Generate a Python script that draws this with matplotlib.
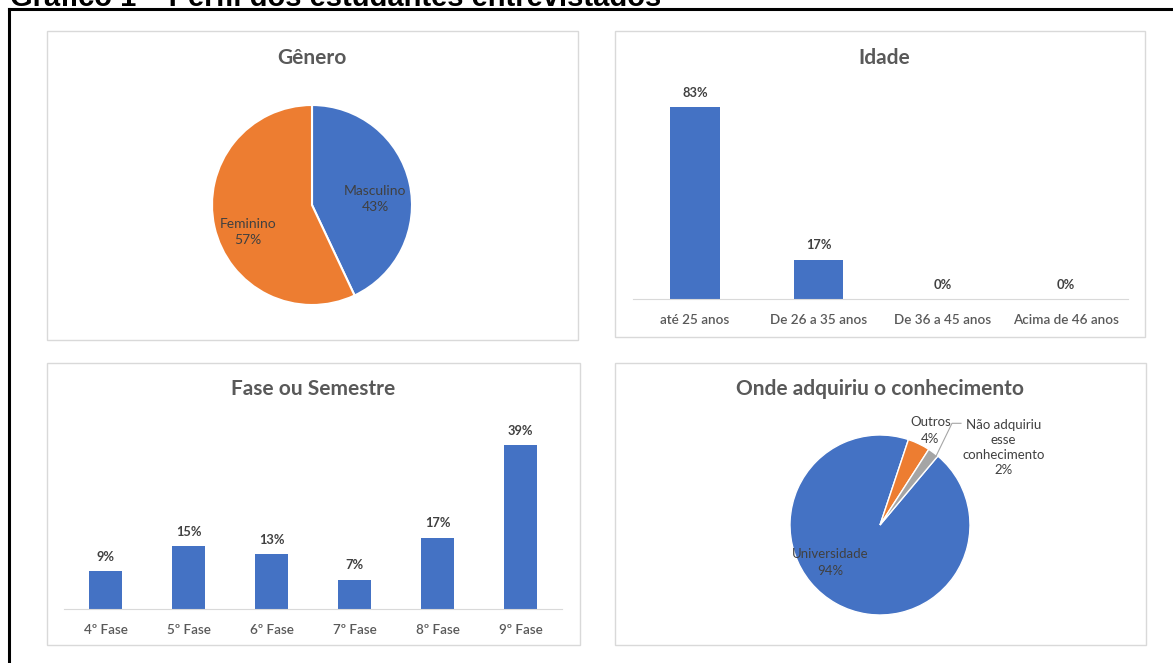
import matplotlib
matplotlib.use('Agg')
import matplotlib.pyplot as plt
from matplotlib.patches import Rectangle
from matplotlib.lines import Line2D

plt.rcParams['font.family'] = ['Lato', 'DejaVu Sans']

W, H = 1173, 663

# data
genero_labels = ['Masculino', 'Feminino']
genero_vals = [43, 57]

idade_cats = ['até 25 anos', 'De 26 a 35 anos', 'De 36 a 45 anos', 'Acima de 46 anos']
idade_vals = [83, 17, 0, 0]

fase_cats = ['4º Fase', '5º Fase', '6º Fase', '7º Fase', '8º Fase', '9º Fase']
fase_vals = [9, 15, 13, 7, 17, 39]

onde_labels = ['Universidade', 'Outros', 'Não adquiriu\nesse\nconhecimento']
onde_vals = [94, 4, 2]

BLUE, ORANGE, GRAY = '#4472C4', '#ED7D31', '#A5A5A5'
TXT = '#595959'
LBL = '#404040'


def box(x0, y0, x1, y1):
    return [x0 / W, 1 - y1 / H, (x1 - x0) / W, (y1 - y0) / H]


fig = plt.figure(figsize=(W / 100, H / 100), dpi=100)
fig.patch.set_facecolor('white')

# caption, cut off by the top edge as in the scan
fig.text(10 / W, 1 - 6 / H, 'Gráfico 1 – Perfil dos estudantes entrevistados',
         fontsize=21, fontweight='bold', color='black', va='baseline',
         family=['Liberation Sans', 'DejaVu Sans'])

# outer black frame (left and top only visible)
fig.add_artist(Line2D([9 / W, 9 / W], [0, 1 - 9 / H], color='black', lw=2.2,
                      transform=fig.transFigure))
fig.add_artist(Line2D([9 / W, 1], [1 - 9 / H, 1 - 9 / H], color='black', lw=2.2,
                      transform=fig.transFigure))

# chart panels
for (x0, y0, x1, y1) in [(47, 31, 578, 340), (615, 31, 1145, 337),
                         (47, 363, 580, 645), (615, 363, 1146, 645)]:
    b = box(x0, y0, x1, y1)
    fig.add_artist(Rectangle((b[0], b[1]), b[2], b[3], transform=fig.transFigure,
                             fill=False, edgecolor='#d9d9d9', lw=1))

tkw = dict(fontsize=15, fontweight='bold', color=TXT, ha='center', va='center')
fig.text(312 / W, 1 - 58 / H, 'Gênero', **tkw)
fig.text(884 / W, 1 - 58 / H, 'Idade', **tkw)
fig.text(313 / W, 1 - 389 / H, 'Fase ou Semestre', **tkw)
fig.text(880 / W, 1 - 389 / H, 'Onde adquiriu o conhecimento', **tkw)

# Gênero pie
ax = fig.add_axes(box(212, 105, 412, 305))
ax.pie(genero_vals, colors=[BLUE, ORANGE], startangle=90, counterclock=False,
       wedgeprops=dict(edgecolor='white', linewidth=1.5))
ax.set_xlim(-1, 1)
ax.set_ylim(-1, 1)
ax.text(0.63, 0.06, f'{genero_labels[0]}\n{genero_vals[0]}%', ha='center', va='center',
        fontsize=10, color=LBL, linespacing=1.45)
ax.text(-0.64, -0.27, f'{genero_labels[1]}\n{genero_vals[1]}%', ha='center', va='center',
        fontsize=10, color=LBL, linespacing=1.45)


def bar_axes(rect, cats, vals, ymax):
    a = fig.add_axes(rect)
    xs = range(len(cats))
    a.bar(xs, vals, width=0.4, color=BLUE)
    a.set_xlim(-0.5, len(cats) - 0.5)
    a.set_ylim(0, ymax)
    for x, v in zip(xs, vals):
        a.annotate(f'{v}%', (x, v), xytext=(0, 6), textcoords='offset points',
                   ha='center', va='bottom', fontsize=9.3, fontweight='bold', color=LBL)
    a.set_xticks(list(xs))
    a.set_xticklabels(cats, fontsize=9.7, color=TXT, fontweight='semibold')
    a.tick_params(axis='x', length=0, pad=11)
    a.set_yticks([])
    for s in ['top', 'right', 'left']:
        a.spines[s].set_visible(False)
    a.spines['bottom'].set_color('#d9d9d9')
    a.patch.set_alpha(0)
    return a


bar_axes(box(633, 68, 1128, 299), idade_cats, idade_vals, 100)
bar_axes(box(64, 420, 562, 609), fase_cats, fase_vals, 45)

# Onde pie
ax2 = fig.add_axes(box(790, 435, 970, 615))
ax2.pie(onde_vals, colors=[BLUE, ORANGE, GRAY], startangle=50, counterclock=False,
        wedgeprops=dict(edgecolor='white', linewidth=1))
ax2.set_xlim(-1, 1)
ax2.set_ylim(-1, 1)
ax2.text(-0.55, -0.42, f'{onde_labels[0]}\n{onde_vals[0]}%', ha='center', va='center',
         fontsize=9.5, color=LBL, linespacing=1.5)
ax2.text(0.56, 1.05, f'{onde_labels[1]}\n{onde_vals[1]}%', ha='center', va='center',
         fontsize=9.5, color=LBL, linespacing=1.5, clip_on=False)
ax2.text(1.37, 0.86, f'{onde_labels[2]}\n{onde_vals[2]}%', ha='center', va='center',
         fontsize=9.5, color=LBL, linespacing=1.3, clip_on=False)
ax2.plot([0.62, 0.8, 0.9], [0.76, 1.13, 1.13], color='#a6a6a6', lw=0.8, clip_on=False)

fig.savefig('out.png', dpi=100)
